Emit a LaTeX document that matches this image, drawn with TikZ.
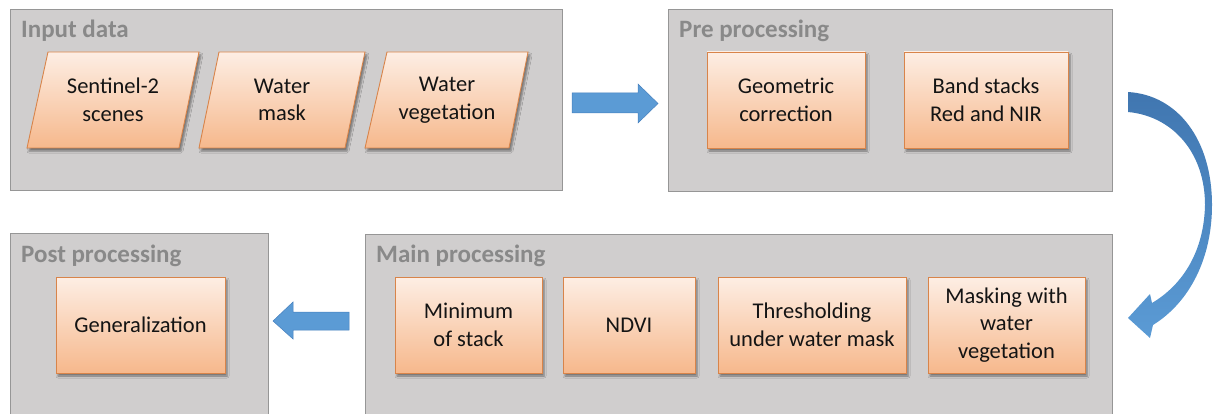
\documentclass[tikz,border=0pt]{standalone}
\usepackage{fontspec}
\setmainfont{Carlito}
\usetikzlibrary{shadows,shadows.blur}
\definecolor{panelfill}{RGB}{208,206,206}
\definecolor{paneldraw}{RGB}{150,150,150}
\definecolor{titlegray}{RGB}{137,137,137}
\definecolor{boxtop}{RGB}{253,238,228}
\definecolor{boxbot}{RGB}{246,184,140}
\definecolor{boxdraw}{RGB}{216,132,74}
\definecolor{arrowblue}{RGB}{91,155,213}
\definecolor{arrowdark}{RGB}{64,118,176}
\definecolor{arrowedge}{RGB}{70,128,190}
\definecolor{bodytext}{RGB}{20,20,20}
\begin{document}
\begin{tikzpicture}[x=1pt,y=-1pt,
  panel/.style={fill=panelfill,draw=paneldraw,line width=1pt,inner sep=0,anchor=north west},
  paneltitle/.style={anchor=base west,text=titlegray,inner sep=0,
    font=\fontsize{25}{30}\selectfont\bfseries},
  boxlook/.style={draw=boxdraw,line width=0.9pt,top color=boxtop,bottom color=boxbot,
    blur shadow={shadow xshift=2pt,shadow yshift=-3pt,shadow blur radius=2pt,shadow opacity=45}},
  stepbox/.style={boxlook,minimum height=96pt,align=center,inner sep=0,
    text=bodytext,font=\fontsize{22.5}{27.5}\selectfont},
  label/.style={align=center,inner sep=0,text=bodytext,font=\fontsize{22.5}{27.5}\selectfont},
  blockarrow/.style={fill=arrowblue,draw=arrowedge,line width=0.5pt}
]
\useasboundingbox (0,0) rectangle (1218,414);
\clip (0,0) rectangle (1218,414);

% panels
\node[panel,minimum width=552pt,minimum height=181pt] (inp) at (10,9) {};
\node[panel,minimum width=444pt,minimum height=182pt] (pre) at (668,9) {};
\node[panel,minimum width=258pt,minimum height=190pt] (post) at (10,233) {};
\node[panel,minimum width=747pt,minimum height=190pt] (main) at (365,234) {};

\node[paneltitle] (tinp) at ([shift={(11,29)}]inp.north west) {Input data};
\node[paneltitle] (tpre) at ([shift={(11,29)}]pre.north west) {Pre processing};
\node[paneltitle] (tpost) at ([shift={(11,29)}]post.north west) {Post processing};
\node[paneltitle] (tmain) at ([shift={(11,28)}]main.north west) {Main processing};

% input data (parallelograms)
\path[boxlook] (48,52) -- (199,52) -- (179,148) -- (27,148) -- cycle;
\node[label] (sen) at (113,100) {Sentinel-2\\scenes};
\path[boxlook] (219,52) -- (365,52) -- (345,148) -- (199,148) -- cycle;
\node[label] (wmask) at (282,100) {Water\\mask};
\path[boxlook] (387,52) -- (528,52) -- (509,148) -- (365,148) -- cycle;
\node[label] (wveg) at (447,100) {Water\\vegetation};

% pre processing
\node[stepbox,minimum width=158pt] (geo) at (786,100) {Geometric\\correction};
\node[stepbox,minimum width=164pt] (band) at (986,100) {Band stacks\\Red and NIR};

% main processing
\node[stepbox,minimum width=147pt] (minst) at (468.5,325) {Minimum\\of stack};
\node[stepbox,minimum width=132pt] (ndvi) at (629,325) {NDVI};
\node[stepbox,minimum width=188pt] (thr) at (812,325) {Thresholding\\under water mask};
\node[stepbox,minimum width=157pt] (mwv) at (1006.5,325) {Masking with\\water\\vegetation};

% post processing
\node[stepbox,minimum width=169pt] (gen) at (140.5,325) {Generalization};

% flow arrows
\path[blockarrow] (572,93) -- (638,93) -- (638,84) -- (658,103.5) -- (638,123)
  -- (638,113) -- (572,113) -- cycle;
\path[blockarrow] (349,312) -- (293,312) -- (293,302) -- (273,321) -- (293,339)
  -- (293,330) -- (349,330) -- cycle;
\path[top color=arrowdark,bottom color=arrowblue]
  (1128,92) .. controls (1178,95) and (1212,140) .. (1212,205)
  .. controls (1212,258) and (1190,302) .. (1153,325)
  -- (1150,338) -- (1128,318) -- (1150,294) -- (1152,303)
  .. controls (1184,284) and (1204,250) .. (1205,205)
  .. controls (1205,152) and (1172,116) .. (1128,112) -- cycle;
\end{tikzpicture}
\end{document}
